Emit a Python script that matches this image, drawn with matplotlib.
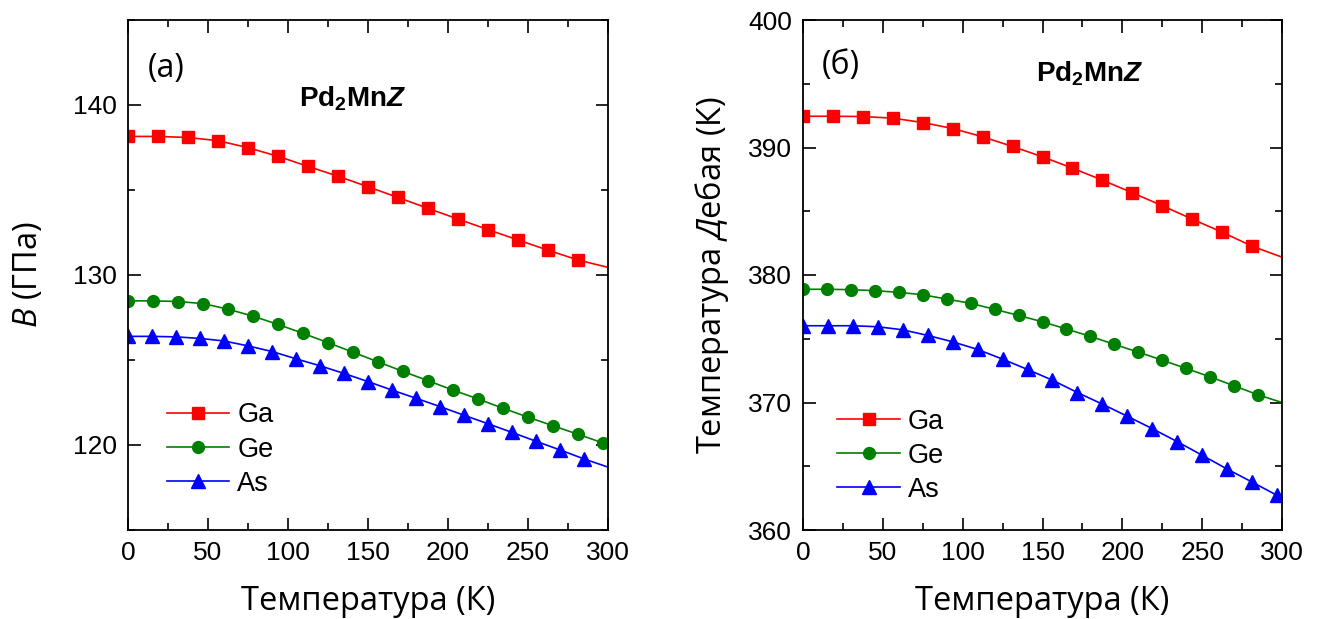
import matplotlib
matplotlib.use("Agg")
import matplotlib.pyplot as plt
from matplotlib.ticker import MultipleLocator

plt.rcParams["mathtext.fontset"] = "custom"
plt.rcParams["mathtext.rm"] = "Open Sans"
plt.rcParams["mathtext.it"] = "Open Sans:italic"
plt.rcParams["mathtext.bf"] = "Liberation Sans:bold"
plt.rcParams["mathtext.bfit"] = "Liberation Sans:bold:italic"

# Temperature grids (K)
t_1875 = [0, 18.75, 37.5, 56.25, 75, 93.75, 112.5, 131.25, 150, 168.75, 187.5,
          206.25, 225, 243.75, 262.5, 281.25, 300]
t_15625 = [0, 15.625, 31.25, 46.875, 62.5, 78.125, 93.75, 109.375, 125, 140.625,
           156.25, 171.875, 187.5, 203.125, 218.75, 234.375, 250, 265.625, 281.25,
           296.875, 300]
t_15 = [0, 15, 30, 45, 60, 75, 90, 105, 120, 135, 150, 165, 180, 195, 210, 225,
        240, 255, 270, 285, 300]

# (a) bulk modulus B, GPa
b_ga = [138.15, 138.15, 138.09, 137.90, 137.49, 136.98, 136.39, 135.81, 135.19,
        134.56, 133.92, 133.29, 132.67, 132.06, 131.46, 130.88, 130.45]
b_ge = [128.48, 128.48, 128.44, 128.32, 127.99, 127.58, 127.09, 126.57, 126.02,
        125.46, 124.89, 124.33, 123.78, 123.23, 122.71, 122.16, 121.64, 121.13,
        120.63, 120.12, 120.02]
b_as = [126.39, 126.39, 126.36, 126.27, 126.12, 125.83, 125.50, 125.07, 124.66,
        124.21, 123.73, 123.23, 122.75, 122.26, 121.75, 121.25, 120.74, 120.22,
        119.71, 119.18, 118.70]

# (б) Debye temperature, K
d_ga = [392.45, 392.45, 392.43, 392.30, 391.96, 391.49, 390.84, 390.08, 389.27,
        388.38, 387.44, 386.45, 385.44, 384.38, 383.36, 382.26, 381.40]
d_ge = [378.88, 378.88, 378.85, 378.77, 378.64, 378.45, 378.11, 377.78, 377.31,
        376.83, 376.33, 375.76, 375.19, 374.56, 373.95, 373.32, 372.67, 372.01,
        371.31, 370.60, 370.00]
d_as = [376.02, 376.02, 376.02, 375.94, 375.70, 375.26, 374.76, 374.16, 373.40,
        372.59, 371.75, 370.78, 369.87, 368.92, 367.95, 366.93, 365.86, 364.78,
        363.76, 362.72, 362.50]

labels = ["Ga", "Ge", "As"]
colors = ["#ff0000", "#008000", "#0000ff"]
markers = ["s", "o", "^"]
msizes = [8, 8.5, 9.5]

W, H = 1321, 619
fig = plt.figure(figsize=(W / 100, H / 100), dpi=100)
axa = fig.add_axes([128 / W, 1 - 530 / H, 480 / W, 510 / H])
axb = fig.add_axes([803 / W, 1 - 530 / H, 479 / W, 510 / H])

tick_family, tick_size = "Liberation Sans", 19
label_family, label_size = "Open Sans", 23.5

panel_a = [(t_1875, b_ga), (t_15625, b_ge), (t_15, b_as)]
panel_b = [(t_1875, d_ga), (t_15, d_ge), (t_15625, d_as)]
legend_anchor = {axa: (0.081, 0.25), axb: (0.072, 0.238)}

for ax, series in ((axa, panel_a), (axb, panel_b)):
    for (t, y), lab, c, m, ms in zip(series, labels, colors, markers, msizes):
        ax.plot(t, y, color=c, lw=1.2, marker=m, ms=ms,
                markevery=slice(0, len(t) - 1), label=lab)
    ax.set_xlim(0, 300)
    ax.xaxis.set_major_locator(MultipleLocator(50))
    ax.xaxis.set_minor_locator(MultipleLocator(25))
    ax.yaxis.set_major_locator(MultipleLocator(10))
    ax.yaxis.set_minor_locator(MultipleLocator(5))
    ax.tick_params(which="both", direction="in", top=True, right=True, width=1.2)
    ax.tick_params(which="major", length=9, pad=8)
    ax.tick_params(which="minor", length=5)
    for s in ax.spines.values():
        s.set_linewidth(1.3)
    ax.set_xlabel("Температура (К)", fontfamily=label_family,
                  fontsize=label_size, labelpad=14)
    ax.legend(loc="upper left", bbox_to_anchor=legend_anchor[ax], frameon=False,
              prop=dict(family="Liberation Sans", size=19.5), handlelength=2.3,
              handletextpad=0.3, labelspacing=0.3, borderaxespad=0, borderpad=0)

axa.set_ylim(115, 145)
axb.set_ylim(360, 400)
for ax in (axa, axb):
    for lbl in ax.get_xticklabels() + ax.get_yticklabels():
        lbl.set_fontfamily(tick_family)
        lbl.set_fontsize(tick_size)

axa.set_ylabel(r"$\mathit{B}$ (ГПа)", fontfamily=label_family,
               fontsize=label_size, labelpad=20)
axb.set_ylabel(r"Температура $\mathit{Д}$ебая (К)", fontfamily=label_family,
               fontsize=label_size, labelpad=12)

axa.text(0.042, 0.905, "(a)", transform=axa.transAxes, fontfamily="Open Sans",
         fontsize=23, va="center", ha="left")
axb.text(0.04, 0.91, "(б)", transform=axb.transAxes, fontfamily="Open Sans",
         fontsize=23, va="center", ha="left")
formula = r"$\mathbf{Pd_2Mn}\mathbfit{Z}$"
axa.text(0.468, 0.845, formula, transform=axa.transAxes, fontsize=20,
         ha="center", va="center")
axb.text(0.598, 0.895, formula, transform=axb.transAxes, fontsize=20,
         ha="center", va="center")

fig.savefig("out.png", dpi=100)
